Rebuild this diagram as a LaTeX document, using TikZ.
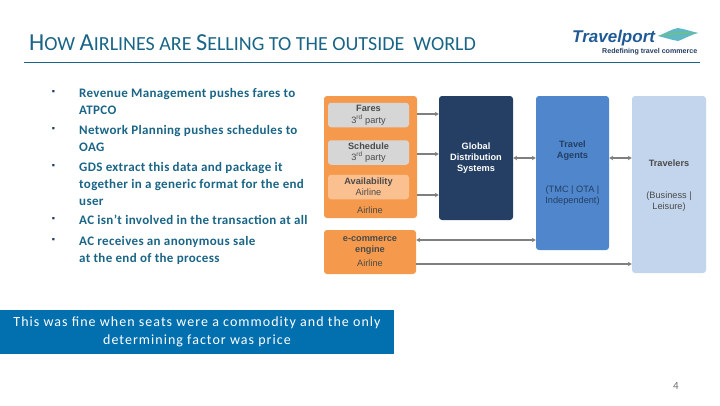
\documentclass[tikz,border=0pt]{standalone}
\usepackage{fontspec}
\setmainfont{Carlito}
\newfontfamily\boxfont{Liberation Sans}
\newfontfamily\widefont[LetterSpace=2.6]{Carlito}
\newfontfamily\bandfont[LetterSpace=7.4]{Carlito}
\usetikzlibrary{arrows.meta}
\definecolor{teal1}{HTML}{1A6586}
\definecolor{orange1}{HTML}{F59A4C}
\definecolor{orange2}{HTML}{FAC08F}
\definecolor{gray1}{HTML}{D6D6D6}
\definecolor{navy1}{HTML}{243F63}
\definecolor{blue1}{HTML}{4F86CC}
\definecolor{blue2}{HTML}{C3D5EC}
\definecolor{band1}{HTML}{0270AF}
\definecolor{text1}{HTML}{4A4A4A}
\definecolor{link1}{HTML}{7F7F7F}
\definecolor{logo1}{HTML}{1F5A96}
\definecolor{wave1}{HTML}{5FB8C4}
\definecolor{wave2}{HTML}{6FBF8A}
\tikzset{
    panel/.style={rounded corners=3pt, inner sep=0pt, align=center, font=\boxfont\fontsize{9.2}{11}\selectfont, text=text1},
    chip/.style={panel, minimum width=81pt, minimum height=24.5pt},
    point/.style={anchor=north west, inner sep=0pt, align=left, text=teal1, font=\widefont\fontsize{13}{17}\selectfont\bfseries},
    dot/.style={anchor=center, inner sep=0pt, text=navy1, font=\fontsize{9}{9}\selectfont},
    link/.style={color=link1, line width=1.3pt, -{Stealth[length=4pt,width=4.5pt]}},
    twoway/.style={link, {Stealth[length=4pt,width=4.5pt]}-{Stealth[length=4pt,width=4.5pt]}}
}
\begin{document}
\begin{tikzpicture}[x=1pt,y=-1pt]
    \useasboundingbox (0,0) rectangle (720,405);

    % heading
    \node (heading) [anchor=base west, inner sep=0pt, text=teal1] at (29,50)
        {\fontsize{24.4}{25}\selectfont H\fontsize{20}{25}\selectfont OW
         \fontsize{24.4}{25}\selectfont A\fontsize{20}{25}\selectfont IRLINES ARE
         \fontsize{24.4}{25}\selectfont S\fontsize{20}{25}\selectfont ELLING TO THE OUTSIDE\ \ WORLD};
    \coordinate (rulel) at (24,62);
    \coordinate (ruler) at (700,62);
    \draw [teal1, line width=0.7pt] (rulel) -- (ruler);

    % logo
    \node (logo) [anchor=base west, inner sep=0pt, text=logo1, font=\boxfont\fontsize{17}{18}\selectfont\bfseries\itshape] at (572,42) {Travelport};
    \node (slogan) [anchor=base west, inner sep=0pt, text=navy1, font=\boxfont\fontsize{7.1}{8}\selectfont\bfseries] at (602,53) {Redefining travel commerce};
    \fill [wave1] (658,36) .. controls (668,32) and (672,29) .. (678,28) .. controls (684,29) and (690,31) .. (698,33) .. controls (690,35) and (684,39) .. (678,41) .. controls (672,40) and (666,38) .. (658,36);
    \fill [wave2] (658,36) .. controls (668,33) and (682,31) .. (698,33) .. controls (684,33.5) and (670,35) .. (658,36);

    % bullets
    \node (dota) [dot] at (53.5,92) {▪};
    \node (dotb) [dot] at (53.5,129) {▪};
    \node (dotc) [dot] at (53.5,166) {▪};
    \node (dotd) [dot] at (53.5,219) {▪};
    \node (dote) [dot] at (53.5,240) {▪};
    \node (pointa) [point] at (79,88) {Revenue Management pushes fares to\\ATPCO};
    \node (pointb) [point] at (79,125) {Network Planning pushes schedules to\\OAG};
    \node (pointc) [point] at (79,162) {GDS extract this data and package it\\together in a generic format for the end\\user};
    \node (pointd) [point] at (79,215) {AC isn’t involved in the transaction at all};
    \node (pointe) [point] at (79,236) {AC receives an anonymous sale\\at the end of the process};

    % chart
    \node (airline) [panel, fill=orange1, minimum width=93pt, minimum height=122pt] at (370.5,157) {};
    \node (fares) [chip, fill=gray1] at (368.5,115) {\textbf{Fares}\\[1pt]3\textsuperscript{rd} party};
    \node (schedule) [chip, fill=gray1] at (368.5,152.5) {\textbf{Schedule}\\3\textsuperscript{rd} party};
    \node (avail) [chip, fill=orange2] at (368.5,187) {\textbf{Availability}\\Airline};
    \node (airlinetag) [panel] at (370,210) {Airline};
    \node (ecom) [panel, fill=orange1, minimum width=92pt, minimum height=44pt] at (370,252) {\textbf{e-commerce}\\\textbf{engine}\\[3pt]Airline};
    \node (gds) [panel, fill=navy1, text=white, minimum width=74pt, minimum height=124pt] at (476,158) {\textbf{Global}\\\textbf{Distribution}\\\textbf{Systems}};
    \node (agents) [panel, fill=blue1, minimum width=73pt, minimum height=154pt] at (572.5,173) {};
    \node (agentstop) [panel, text=navy1] at (572.5,151) {\textbf{Travel}\\\textbf{Agents}};
    \node (agentsub) [panel, text=navy1] at (572.5,196) {(TMC | OTA |\\Independent)};
    \node (travelers) [panel, fill=blue2, minimum width=74pt, minimum height=177pt] at (669,184.5) {};
    \node (travelerstop) [panel] at (669,163) {\textbf{Travelers}};
    \node (travelersub) [panel] at (669,202) {(Business |\\Leisure)};

    \path [link] (airline.east |- 0,114) edge (gds.west |- 0,114);
    \path [link] (airline.east |- 0,154) edge (gds.west |- 0,154);
    \path [link] (airline.east |- 0,195) edge (gds.west |- 0,195);
    \path [twoway] (gds.east |- 0,158) edge (agents.west |- 0,158);
    \path [twoway] (agents.east |- 0,158) edge (travelers.west |- 0,158);
    \path [twoway] (ecom.east |- 0,240) edge (agents.west |- 0,240);
    \path [link] (ecom.east |- 0,264) edge (travelers.west |- 0,264);

    % footer
    \node (band) [fill=band1, text=white, inner sep=0pt, minimum width=394pt, minimum height=44pt, align=center, font=\bandfont\fontsize{14}{18}\selectfont] at (197,332) {\raisebox{1pt}{This was fine when seats were a commodity and the only}\\\raisebox{1pt}{determining factor was price}};
    \node (pageno) [inner sep=0pt, text=text1!80, font=\fontsize{11}{12}\selectfont] at (676,386) {4};
\end{tikzpicture}
\end{document}
